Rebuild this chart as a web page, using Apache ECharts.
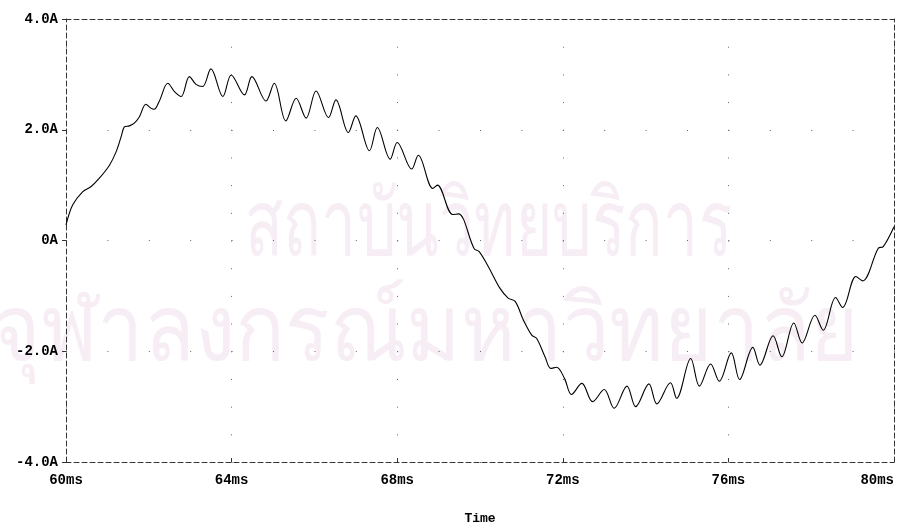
<!DOCTYPE html>
<html>
<head>
<meta charset="utf-8">
<script src="https://cdn.jsdelivr.net/npm/echarts@6/dist/echarts.min.js"></script>
<style>html,body{margin:0;padding:0;background:#fff}#c{width:899px;height:528px}</style>
</head>
<body>
<div id="c"></div>
<script>
var timeMs = [60.00,60.16,60.40,60.60,60.80,61.05,61.21,61.33,61.41,61.53,61.65,61.77,61.93,62.05,62.13,62.25,62.46,62.62,62.78,62.98,63.14,63.30,63.50,63.79,63.99,64.31,64.49,64.83,65.03,65.31,65.56,65.80,66.04,66.34,66.52,66.82,67.00,67.33,67.52,67.83,68.00,68.35,68.51,68.86,68.97,69.34,69.48,69.86,69.98,70.20,70.48,70.68,70.85,71.05,71.25,71.37,71.57,71.71,71.85,72.04,72.21,72.46,72.72,73.00,73.24,73.55,73.76,74.08,74.27,74.60,74.75,75.09,75.30,75.57,75.78,76.07,76.27,76.59,76.76,77.08,77.29,77.58,77.78,78.09,78.29,78.59,78.76,79.08,79.24,79.62,79.74,80.00];
var currentA = [0.28,0.64,0.88,0.97,1.12,1.36,1.60,1.87,2.05,2.07,2.12,2.23,2.46,2.39,2.37,2.51,2.84,2.69,2.60,2.96,2.82,2.78,3.10,2.60,2.99,2.63,2.96,2.52,2.84,2.16,2.57,2.21,2.70,2.22,2.54,1.95,2.25,1.62,2.04,1.47,1.77,1.29,1.54,0.94,1.00,0.47,0.48,-0.15,-0.20,-0.47,-0.86,-1.04,-1.10,-1.44,-1.71,-1.77,-2.10,-2.31,-2.29,-2.49,-2.78,-2.58,-2.91,-2.69,-3.03,-2.63,-3.00,-2.59,-2.95,-2.57,-2.85,-2.13,-2.63,-2.23,-2.54,-2.03,-2.51,-1.93,-2.25,-1.72,-2.10,-1.49,-1.85,-1.35,-1.62,-1.03,-1.21,-0.65,-0.73,-0.14,-0.11,0.25];
var xTicks = [60,64,68,72,76,80];
var xTickLabels = ['60ms','64ms','68ms','72ms','76ms','80ms'];
var yTicks = [-4,-2,0,2,4];
var yTickLabels = ['-4.0A','-2.0A','0A','2.0A','4.0A'];
var xTitle = 'Time';
var watermark1 = 'สถาบันวิทยบริการ';
var watermark2 = 'จุฬาลงกรณ์มหาวิทยาลัย';

var data = timeMs.map(function(t,i){return [t,currentA[i]];});
var font = '"Liberation Mono","DejaVu Sans Mono",monospace';
var borderStyle = {color:'#333',width:1,type:[5,3]};

var chart = echarts.init(document.getElementById('c'),null,{renderer:'canvas'});
chart.setOption({
  animation:false,
  backgroundColor:'#fff',
  graphic:[
    {type:'text',x:245,y:183,scaleX:0.68,z:-10,silent:true,style:{text:watermark1,font:'92px "Noto Sans", sans-serif',fill:'#f7eef5',textVerticalAlign:'top'}},
    {type:'text',x:-8,y:288,scaleX:0.9,z:-10,silent:true,style:{text:watermark2,font:'92px "Noto Sans", sans-serif',fill:'#f7eef5',textVerticalAlign:'top'}}
  ],
  grid:{left:66,right:5,top:19,bottom:66,containLabel:false,outerBoundsMode:'none'},
  xAxis:[{
    type:'value',min:60,max:80,interval:4,position:'bottom',
    name:xTitle,nameLocation:'middle',nameGap:50,
    nameTextStyle:{fontFamily:font,fontWeight:'bold',fontSize:13,color:'#000'},
    axisLine:{show:true,onZero:false,lineStyle:borderStyle},
    axisTick:{show:true,inside:true,length:4,lineStyle:{color:'#333'}},
    axisLabel:{margin:11,fontFamily:font,fontWeight:'bold',fontSize:14,color:'#000',alignMaxLabel:'right',
      formatter:function(v){var i=xTicks.indexOf(v);return i>=0?xTickLabels[i]:'';}},
    splitLine:{show:true,lineStyle:{color:'#666',width:1,type:[1,26.69]}}
  },{
    type:'value',min:60,max:80,interval:4,position:'top',
    axisLine:{show:true,onZero:false,lineStyle:borderStyle},
    axisTick:{show:false},axisLabel:{show:false},splitLine:{show:false}
  }],
  yAxis:[{
    type:'value',min:-4,max:4,interval:2,position:'left',
    axisLine:{show:true,onZero:false,lineStyle:borderStyle},
    axisTick:{show:true,inside:false,length:4,lineStyle:{color:'#333'}},
    axisLabel:{margin:8,fontFamily:font,fontWeight:'bold',fontSize:14,color:'#000',
      formatter:function(v){var i=yTicks.indexOf(v);return i>=0?yTickLabels[i]:'';}},
    splitLine:{show:true,lineStyle:{color:'#666',width:1,type:[1,40.4]}}
  },{
    type:'value',min:-4,max:4,interval:2,position:'right',
    axisLine:{show:true,onZero:false,lineStyle:borderStyle},
    axisTick:{show:false},axisLabel:{show:false},splitLine:{show:false}
  }],
  series:[{
    type:'line',data:data,xAxisIndex:0,yAxisIndex:0,
    showSymbol:false,smooth:0.35,
    lineStyle:{color:'#000',width:1.1},
    z:5
  }]
});
</script>
</body>
</html>
